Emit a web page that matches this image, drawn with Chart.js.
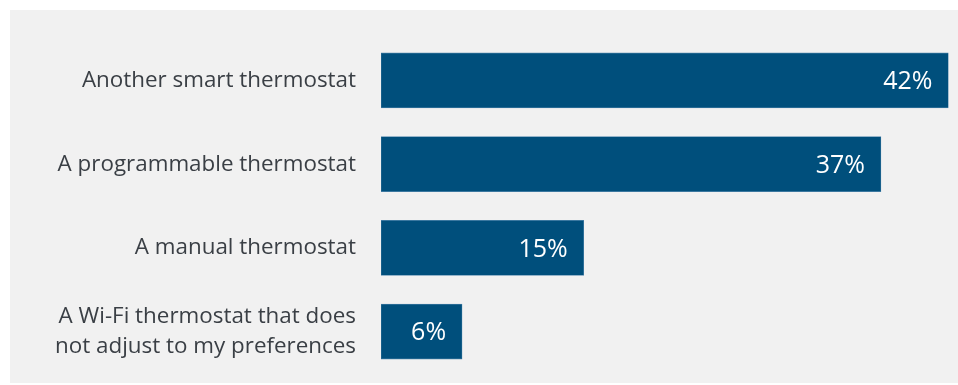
<!DOCTYPE html>
<html>
<head>
<meta charset="utf-8">
<script src="https://cdn.jsdelivr.net/npm/chart.js@4/dist/chart.umd.min.js"></script>
<style>
  html, body { margin: 0; padding: 0; background: #ffffff; }
  #wrap { position: absolute; left: 0; top: 0; width: 958px; height: 385px; }
  #panel { position: absolute; left: 10px; top: 10px; width: 948px; height: 373px; background: #f1f1f1; }
</style>
</head>
<body>
<div id="wrap">
  <div id="panel"></div>
  <canvas id="c" width="958" height="385" style="position:absolute;left:0;top:0;width:958px;height:385px;"></canvas>
</div>
<script>
// Replacement thermostat types and share of respondents (%)
const categories = [
  'Another smart thermostat',
  'A programmable thermostat',
  'A manual thermostat',
  ['A Wi-Fi thermostat that does', 'not adjust to my preferences']
];
const shares = [42, 37, 15, 6];
const shareLabels = ['42%', '37%', '15%', '6%'];

const FONT = '"Open Sans", "Noto Sans", sans-serif';

// Writes each bar's percentage inside its right end
const valueLabels = {
  id: 'valueLabels',
  afterDatasetsDraw(chart) {
    const ctx = chart.ctx;
    const meta = chart.getDatasetMeta(0);
    ctx.save();
    ctx.font = '25px ' + FONT;
    ctx.fillStyle = '#ffffff';
    ctx.textAlign = 'right';
    ctx.textBaseline = 'middle';
    meta.data.forEach((bar, i) => {
      ctx.fillText(shareLabels[i], bar.x - 16, bar.y + 1.5);
    });
    ctx.restore();
  }
};

new Chart(document.getElementById('c'), {
  type: 'bar',
  data: {
    labels: categories,
    datasets: [{
      data: shares,
      backgroundColor: '#004f7c',
      borderColor: '#4f86ad',
      borderWidth: 0.6,
      borderSkipped: false,
      barThickness: 55
    }]
  },
  options: {
    indexAxis: 'y',
    responsive: false,
    animation: false,
    layout: { padding: { top: 38.5, bottom: 11.5, left: 0, right: 9.5 } },
    plugins: { legend: { display: false }, tooltip: { enabled: false } },
    scales: {
      x: {
        display: false,
        min: 0,
        max: 42
      },
      y: {
        grid: { display: false },
        border: { display: false },
        ticks: {
          color: '#3a3f45',
          font: { family: FONT, size: 22.4, lineHeight: 1.35 },
          padding: 17,
          crossAlign: 'near'
        },
        afterFit(scale) {
          scale.width = 381;
          scale.paddingTop = 0;
          scale.paddingBottom = 0;
        }
      }
    }
  },
  plugins: [valueLabels]
});
</script>
</body>
</html>
